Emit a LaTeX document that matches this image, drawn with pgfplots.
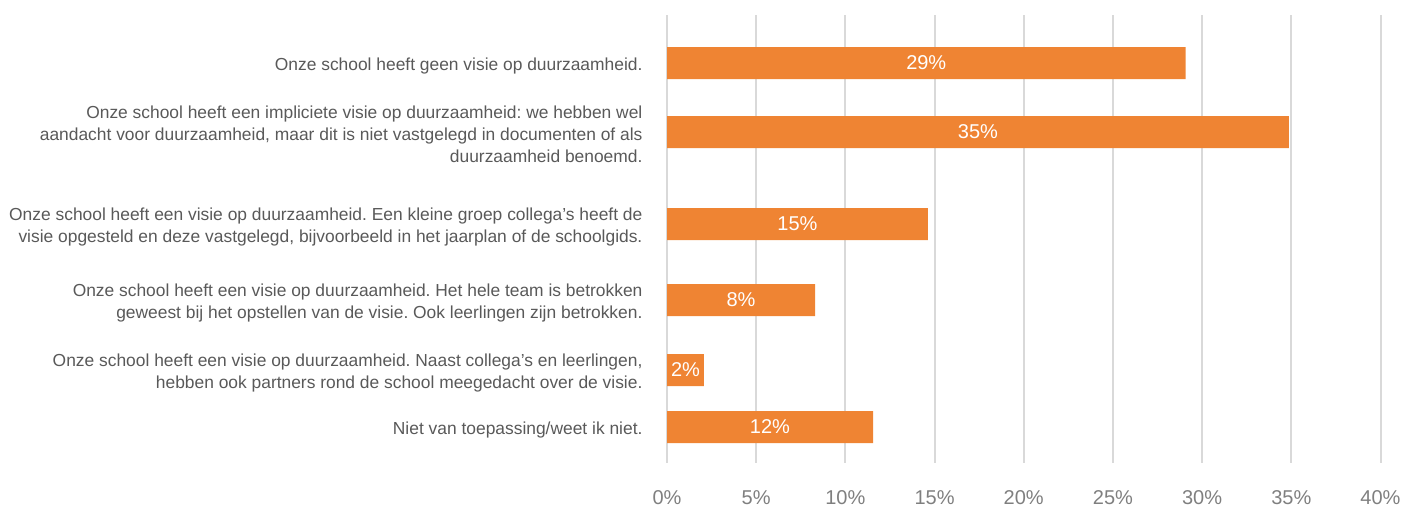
\documentclass[border=0pt]{standalone}
\usepackage{pgfplots}
\usepackage{pgfplotstable}
\pgfplotsset{compat=1.18}
\usepackage{fontspec}
\setmainfont{Liberation Sans}
\frenchspacing
\definecolor{barorange}{HTML}{EF8433}
\definecolor{txtgrey}{HTML}{595959}
\definecolor{tickgrey}{HTML}{7F7F7F}
\definecolor{gridgrey}{HTML}{D9D9D9}
\pgfplotstableread{
pos val lab
63  29.07 29
132 34.87 35
224 14.63 15
300 8.30 8
370 2.07 2
427 11.55 12
}\datatable
\begin{document}
\begin{tikzpicture}[x=1pt,y=1pt]
\useasboundingbox (0,0) rectangle (1416,-506);
\begin{axis}[
  at={(667pt,-15pt)}, anchor=north west,
  scale only axis, width=713.5pt, height=448pt,
  xmin=0, xmax=40, ymin=15, ymax=463, y dir=reverse,
  axis line style={draw=none},
  xmajorgrids, grid style={gridgrey, line width=2pt},
  major tick length=0pt, tick style={draw=none},
  /pgf/number format/assume math mode=true,
  xtick={0,5,...,40},
  xticklabel={\pgfmathprintnumber{\tick}\%},
  xticklabel style={font=\fontsize{20}{22}\selectfont, text=tickgrey, yshift=-24pt},
  ytick={63,132,224,300,370,427},
  yticklabels={
    {Onze school heeft geen visie op duurzaamheid.},
    {Onze school heeft een impliciete visie op duurzaamheid: we hebben wel\\aandacht voor duurzaamheid, maar dit is niet vastgelegd in documenten of als\\duurzaamheid benoemd.},
    {Onze school heeft een visie op duurzaamheid. Een kleine groep collega’s heeft de\\visie opgesteld en deze vastgelegd, bijvoorbeeld in het jaarplan of de schoolgids.},
    {Onze school heeft een visie op duurzaamheid. Het hele team is betrokken\\geweest bij het opstellen van de visie. Ook leerlingen zijn betrokken.},
    {Onze school heeft een visie op duurzaamheid. Naast collega’s en leerlingen,\\hebben ook partners rond de school meegedacht over de visie.},
    {Niet van toepassing/weet ik niet.}
  },
  yticklabel style={align=right, font=\fontsize{17.4}{22}\selectfont, text=txtgrey, xshift=-21pt, yshift=-2.5pt},
  clip=false,
]
\addplot[xbar, bar width=32, fill=barorange, draw=none, bar shift=0pt]
  table[x=val, y=pos] {\datatable};
\addplot[draw=none, mark=none, nodes near coords,
  point meta=explicit symbolic,
  every node near coord/.append style={anchor=center, text=white, font=\fontsize{20}{22}\selectfont},
  nodes near coords={\pgfplotspointmeta\%}]
  table[x expr=\thisrow{val}/2, y=pos, meta=lab] {\datatable};
\end{axis}
\end{tikzpicture}
\end{document}
